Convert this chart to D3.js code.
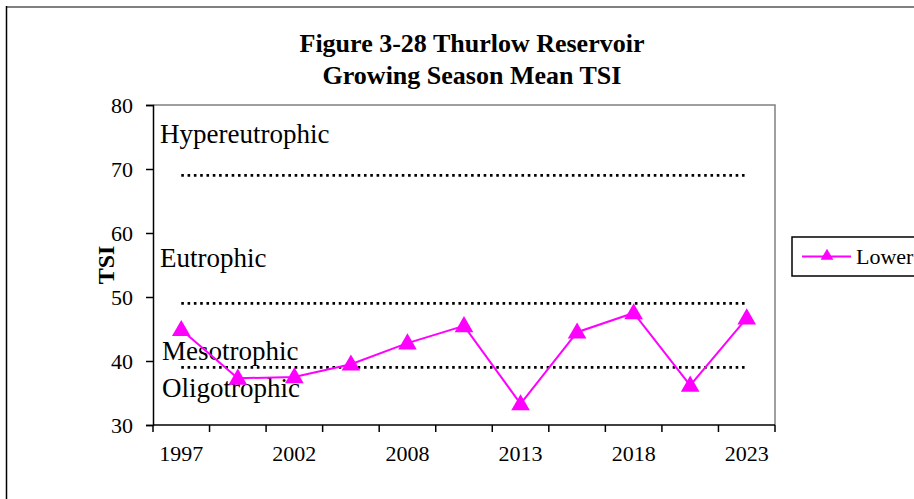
<!DOCTYPE html>
<html>
<head>
<meta charset="utf-8">
<script src="https://cdn.jsdelivr.net/npm/d3@7"></script>
<style>
    body { margin: 0; background: #fff; }
    text { font-family: 'Liberation Serif', 'Times New Roman', Times, 'DejaVu Serif', serif; }
</style>
</head>
<body>
<svg id="chart"></svg>
<script>
// sampling years (every other one labelled on the axis)
const years = ['1997', '2000', '2002', '2005', '2008', '2010', '2013', '2015', '2018', '2020', '2023'];
const lowerTSI = [44.9, 37.3, 37.5, 39.5, 42.8, 45.5, 33.3, 44.5, 47.5, 36.2, 46.7];
// trophic state boundaries drawn as dotted series
const boundaries = [69, 49, 39];
const zoneNames = ['Hypereutrophic', 'Eutrophic', 'Mesotrophic', 'Oligotrophic'];
const zoneAt = [74.1, 54.7, 40.2, 34.3];
const yTicks = [30, 40, 50, 60, 70, 80];

const width = 914, height = 499;
const plot = {left: 153, right: 775, top: 105, bottom: 425};
const serif = "'Liberation Serif', 'Times New Roman', Times, serif";

const svg = d3.select('#chart')
    .attr('width', width)
    .attr('height', height)
    .attr('font-family', serif);

// outer frame of the chart area
svg.append('line')
    .attr('x1', 6).attr('y1', 7).attr('x2', width).attr('y2', 7)
    .style('stroke', '#808080').style('stroke-width', 2);
svg.append('line')
    .attr('x1', 6.5).attr('y1', 6).attr('x2', 6.5).attr('y2', height)
    .style('stroke', '#000').style('stroke-width', 1.5);

const x = d3.scaleBand()
    .domain(years)
    .range([plot.left, plot.right])
    .padding(0);
const y = d3.scaleLinear()
    .domain([30, 80])
    .range([plot.bottom, plot.top]);
const cx = d => x(d) + x.bandwidth() / 2;

// plot area frame (top and right)
svg.append('path')
    .attr('d', `M ${plot.left} ${plot.top} H ${plot.right} V ${plot.bottom}`)
    .style('fill', 'none').style('stroke', '#808080').style('stroke-width', 1.5);

// title
const title = svg.append('text')
    .attr('x', 472)
    .attr('text-anchor', 'middle')
    .attr('font-family', serif)
    .style('font-weight', 'bold')
    .style('font-size', '26px');
title.append('tspan').attr('x', 472).attr('y', 52).text('Figure 3-28 Thurlow Reservoir');
title.append('tspan').attr('x', 472).attr('y', 84).text('Growing Season Mean TSI');

// y axis
const yAxis = svg.append('g')
    .attr('transform', `translate(${plot.left},0)`)
    .call(d3.axisLeft(y).tickValues(yTicks).tickSize(7).tickPadding(13).tickFormat(d3.format('d')))
    .attr('font-family', serif);
yAxis.select('.domain').style('stroke', '#000').style('stroke-width', 1.5);
yAxis.selectAll('.tick line').style('stroke', '#000').style('stroke-width', 1.5);
yAxis.selectAll('text')
    .attr('font-family', serif)
    .style('font-size', '22px')
    .attr('dy', '0.34em')
    .attr('fill', '#000');

svg.append('text')
    .attr('transform', `translate(114,${(plot.top + plot.bottom) / 2}) rotate(-90)`)
    .attr('text-anchor', 'middle')
    .attr('font-family', serif)
    .style('font-weight', 'bold')
    .style('font-size', '24px')
    .text('TSI');

// x axis: ticks between categories, label every other year
const xAxisG = svg.append('g')
    .attr('transform', `translate(0,${plot.bottom})`);
xAxisG.append('line')
    .attr('x1', plot.left).attr('x2', plot.right)
    .style('stroke', '#000').style('stroke-width', 1.5);
const edges = years.map(d => x(d)).concat([x(years[years.length - 1]) + x.bandwidth()]);
xAxisG.selectAll('line.tick')
    .data(edges)
    .join('line')
        .classed('tick', true)
        .attr('x1', d => d).attr('x2', d => d)
        .attr('y1', 0).attr('y2', 7)
        .style('stroke', '#000').style('stroke-width', 1.5);
xAxisG.selectAll('text')
    .data(years.filter((d, i) => i % 2 === 0))
    .join('text')
        .attr('x', d => cx(d))
        .attr('y', 36)
        .attr('text-anchor', 'middle')
        .attr('font-family', serif)
        .style('font-size', '22px')
        .text(d => d);

// trophic boundaries (dotted series across the categories)
const flatLine = d3.line()
    .x(d => cx(d[0]))
    .y(d => y(d[1]));
svg.append('g').selectAll('path')
    .data(boundaries)
    .join('path')
        .attr('d', b => flatLine(years.map(yr => [yr, b])))
        .style('fill', 'none')
        .style('stroke', '#000')
        .style('stroke-width', 2.6)
        .style('stroke-dasharray', '2.6,3.7');

// zone labels
svg.append('g').selectAll('text')
    .data(zoneNames)
    .join('text')
        .attr('x', (d, i) => i < 2 ? 160 : 162)
        .attr('y', (d, i) => y(zoneAt[i]))
        .attr('font-family', serif)
        .style('font-size', '27px')
        .text(d => d);

// Lower series
const magenta = '#FF00FF';
const line = d3.line()
    .x((d, i) => cx(years[i]))
    .y(d => y(d));
svg.append('path')
    .attr('d', line(lowerTSI))
    .style('fill', 'none')
    .style('stroke', magenta)
    .style('stroke-width', 2);

const tri = d3.symbol().type(d3.symbolTriangle).size(150);
svg.append('g').selectAll('path')
    .data(lowerTSI)
    .join('path')
        .attr('transform', (d, i) => `translate(${cx(years[i])},${y(d) + 1})`)
        .attr('d', tri)
        .style('fill', magenta);

// legend
const legend = svg.append('g').attr('transform', 'translate(792,237)');
legend.append('rect')
    .attr('x', 0).attr('y', 0)
    .attr('width', 140).attr('height', 39)
    .style('fill', '#fff').style('stroke', '#000').style('stroke-width', 1.5);
legend.append('line')
    .attr('x1', 10).attr('x2', 59)
    .attr('y1', 19.5).attr('y2', 19.5)
    .style('stroke', magenta).style('stroke-width', 2);
legend.append('path')
    .attr('transform', 'translate(35,19)')
    .attr('d', d3.symbol().type(d3.symbolTriangle).size(70))
    .style('fill', magenta);
legend.append('text')
    .attr('x', 64).attr('y', 27)
    .attr('font-family', serif)
    .style('font-size', '22px')
    .text('Lower');
</script>
</body>
</html>
